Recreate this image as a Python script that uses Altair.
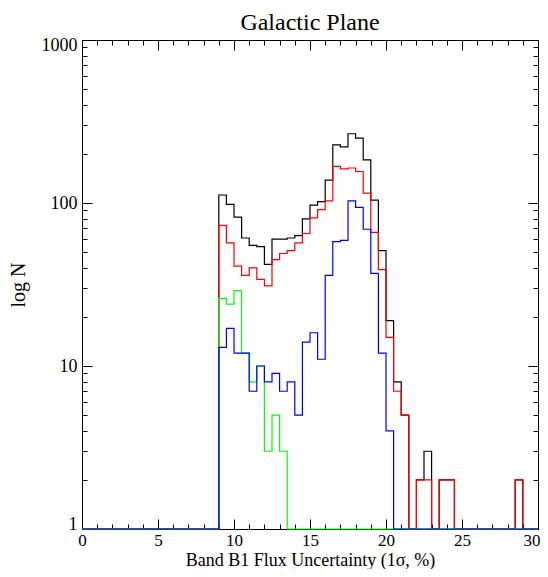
import altair as alt
import pandas as pd

# Bin left edges (bin width 0.5 %) and the right end of the last bin
bin_edges = [0.0, 0.5, 1.0, 1.5, 2.0, 2.5, 3.0, 3.5, 4.0, 4.5,
             5.0, 5.5, 6.0, 6.5, 7.0, 7.5, 8.0, 8.5, 9.0, 9.5,
             10.0, 10.5, 11.0, 11.5, 12.0, 12.5, 13.0, 13.5, 14.0, 14.5,
             15.0, 15.5, 16.0, 16.5, 17.0, 17.5, 18.0, 18.5, 19.0, 19.5,
             20.0, 20.5, 21.0, 21.5, 22.0, 22.5, 23.0, 23.5, 24.0, 24.5,
             25.0, 25.5, 26.0, 26.5, 27.0, 27.5, 28.0, 28.5, 29.0, 29.5]
x_end = 30.0

# Counts per bin (bins 0.0 ... 29.5)
black = [0, 0, 0, 0, 0, 0, 0, 0, 0, 0, 0, 0, 0, 0, 0, 0, 0, 0,
         112, 98, 82, 61, 55, 54, 42, 60, 60, 61,
         63, 80, 97, 102, 138, 227, 221, 266, 250, 184,
         104, 51, 19, 8, 5, 0, 2, 3, 0, 2,
         2, 0, 0, 0, 0, 0, 0, 0, 0, 2,
         0, 0]
red = [0, 0, 0, 0, 0, 0, 0, 0, 0, 0, 0, 0, 0, 0, 0, 0, 0, 0,
       73, 57, 41, 36, 40, 34, 31, 45, 49, 51,
       57, 65, 81, 91, 103, 168, 162, 164, 156, 115,
       66, 39, 15, 7, 5, 0, 2, 2, 0, 2,
       2, 0, 0, 0, 0, 0, 0, 0, 0, 2,
       0, 0]
blue = [0, 0, 0, 0, 0, 0, 0, 0, 0, 0, 0, 0, 0, 0, 0, 0, 0, 0,
        13, 17, 12, 12, 7, 10, 8, 9, 7, 8,
        5, 14, 16, 11, 36, 58, 59, 103, 94, 69,
        37, 12, 4, 0, 0, 0, 0, 0, 0, 0,
        0, 0, 0, 0, 0, 0, 0, 0, 0, 0,
        0, 0]
green = [0, 0, 0, 0, 0, 0, 0, 0, 0, 0, 0, 0, 0, 0, 0, 0, 0, 0,
         26, 24, 29, 12, 8, 10, 3, 5, 3, 0,
         0, 0, 0, 0, 0, 0, 0, 0, 0, 0,
         0, 0, 0, 0, 0, 0, 0, 0, 0, 0,
         0, 0, 0, 0, 0, 0, 0, 0, 0, 0,
         0, 0]

series = {"black": black, "red": red, "green": green, "blue": blue}
colors = {"black": "#000000", "red": "#ff0000", "green": "#00ff00", "blue": "#0000ff"}

x_major = [0, 5, 10, 15, 20, 25, 30]
x_minor = [1, 2, 3, 4, 6, 7, 8, 9, 11, 12, 13, 14, 16, 17, 18, 19,
           21, 22, 23, 24, 26, 27, 28, 29]
y_major = [1, 10, 100, 1000]
y_minor = [2, 3, 4, 5, 6, 7, 8, 9, 20, 30, 40, 50, 60, 70, 80, 90,
           200, 300, 400, 500, 600, 700, 800, 900]

rows = []
for name, vals in series.items():
    for xe, v in zip(bin_edges, vals):
        rows.append({"series": name, "x": xe, "n": v})
    rows.append({"series": name, "x": x_end, "n": vals[-1]})
df = pd.DataFrame(rows)

W, H = 456, 489
FONT = "Liberation Serif"

xscale = alt.Scale(domain=[0, 30], nice=False, zero=False)
yscale = alt.Scale(type="log", domain=[1, 1000], nice=False)


def tick_axis(orient, offset, values, size):
    return alt.Axis(orient=orient, offset=offset, values=values, tickSize=size,
                    ticks=True, labels=False, domain=False, grid=False, title=None,
                    tickColor="black", tickWidth=1)


x_label_axis = alt.Axis(orient="bottom", values=x_major, ticks=False, tickSize=0,
                        domain=False, grid=False, labelFont=FONT, labelFontSize=17,
                        labelColor="black", labelPadding=3, labelFlush=False,
                        labelAngle=0, labelOverlap=False,
                        labelAlign=alt.condition("datum.value == 30",
                                                 alt.value("right"), alt.value("center")),
                        labelOffset=alt.condition("datum.value == 30",
                                                  alt.value(2), alt.value(0)),
                        title="Band B1 Flux Uncertainty (1σ, %)", titleFont=FONT,
                        titleFontSize=18, titleFontWeight="normal", titleColor="black",
                        titleBaseline="alphabetic", titleY=36)
y_label_axis = alt.Axis(orient="left", values=y_major, format="d", ticks=False,
                        tickSize=0, domain=False, grid=False, labelFont=FONT,
                        labelFontSize=18, labelColor="black", labelPadding=5,
                        labelFlush=True, labelFlushOffset=4, labelOverlap=False,
                        title="log N", titleFont=FONT, titleFontSize=20,
                        titleFontWeight="normal", titleColor="black", titlePadding=13)


def layer(name, xaxis, yaxis, opacity=1.0):
    return (
        alt.Chart(df)
        .transform_filter(alt.datum.series == name)
        .transform_calculate(nplot="max(datum.n, 1)")
        .mark_line(interpolate="step-after", color=colors[name], strokeWidth=1.2,
                   strokeOpacity=opacity)
        .encode(
            x=alt.X("x:Q", scale=xscale, axis=xaxis),
            y=alt.Y("nplot:Q", scale=yscale, axis=yaxis),
        )
    )


l_extra = layer("black",
                tick_axis("bottom", -H, x_minor, 5),
                tick_axis("left", -W, y_minor, 5), opacity=0.0)
l_black = layer("black", x_label_axis, y_label_axis)
l_red = layer("red",
              tick_axis("top", -H, x_major, 10),
              tick_axis("right", -W, y_major, 10))
l_green = layer("green",
                tick_axis("top", -H, x_minor, 5),
                tick_axis("right", -W, y_minor, 5))
l_blue = layer("blue",
               tick_axis("bottom", -H, x_major, 10),
               tick_axis("left", -W, y_major, 10))

chart = (
    alt.layer(l_extra, l_black, l_red, l_green, l_blue)
    .resolve_axis(x="independent", y="independent")
    .properties(
        width=W, height=H,
        title=alt.TitleParams("Galactic Plane", font=FONT, fontSize=24,
                              fontWeight="normal", color="black", anchor="middle",
                              offset=1.5),
        autosize=alt.AutoSizeParams(type="none"),
        padding={"left": 74, "top": 32, "right": 2, "bottom": 40},
    )
    .configure_view(stroke="black", strokeWidth=1)
    .configure_axis(grid=False)
)

chart.save("out.html", embed_options={"renderer": "svg", "actions": False})
